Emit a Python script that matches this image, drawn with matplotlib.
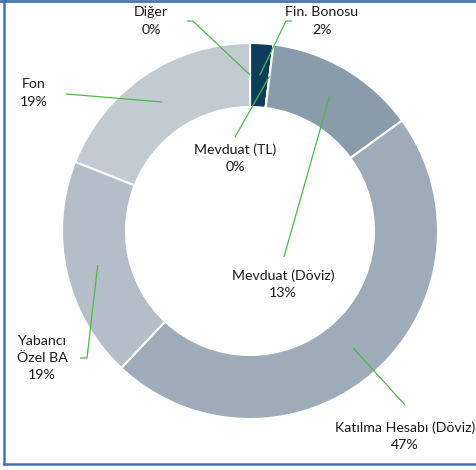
import numpy as np
import matplotlib.pyplot as plt
from matplotlib.lines import Line2D

plt.rcParams['font.family'] = ['Lato', 'DejaVu Sans']

labels = ['Fin. Bonosu', 'Mevduat (TL)', 'Mevduat (Döviz)', 'Katılma Hesabı (Döviz)',
          'Yabancı\nÖzel BA', 'Fon', 'Diğer']
shares = [2, 0, 13, 47, 19, 19, 0]
colors = ['#0d3d5a', '#0d3d5a', '#8a9cac', '#9eabb8', '#b4bec8', '#c2cad2', '#c2cad2']

W, H = 477, 470
fig = plt.figure(figsize=(W / 100, H / 100), dpi=100)
ax = fig.add_axes([0, 0, 1, 1])

# work in pixel units, y measured from the top
def py(y):
    return H - y

cx, cy, R, ring = 250, py(231), 188, 64
wedges, _ = ax.pie(shares, colors=colors, startangle=90, counterclock=False,
                   center=(cx, cy), radius=R, frame=True,
                   wedgeprops=dict(width=ring, edgecolor='white', linewidth=1.5))
ax.set_xlim(0, W)
ax.set_ylim(0, H)
ax.axis('off')

# label text centre and leader-line start (with optional elbow) for each slice
text_pos = [(322, 21), (235, 158), (283, 284), (405, 436), (42, 358), (34, 93), (151, 21)]
leader = [[(292, 21), (286, 21)], [(235, 137)], [(284, 257)], [(405, 405)],
          [(80, 358), (87, 358)], [(66, 94)], [(187, 21), (193, 21)]]

r_mid = R - ring / 2
for w, lab, val, tp, pts in zip(wedges, labels, shares, text_pos, leader):
    a = np.deg2rad((w.theta1 + w.theta2) / 2)
    ex, ey = cx + r_mid * np.cos(a), cy + r_mid * np.sin(a)
    xs = [p[0] for p in pts] + [ex]
    ys = [py(p[1]) for p in pts] + [ey]
    ax.plot(xs, ys, color='#4cb848', lw=0.9, solid_capstyle='butt', zorder=3)
    ax.text(tp[0], py(tp[1]), f'{lab}\n{val}%', ha='center', va='center',
            fontsize=10.2, color='#1a1a1a', linespacing=1.5, zorder=4)

# frame edges (left, top, bottom)
frame = '#4573ad'
fig.add_artist(Line2D([0, 1], [1 - 1 / H, 1 - 1 / H], color=frame, lw=2))
fig.add_artist(Line2D([4.5 / W, 4.5 / W], [1 - 464 / H, 1], color=frame, lw=1.8))
fig.add_artist(Line2D([4.5 / W, 1], [1 - 463.5 / H, 1 - 463.5 / H], color=frame, lw=1.8))

fig.savefig('out.png', dpi=100, facecolor='white')
